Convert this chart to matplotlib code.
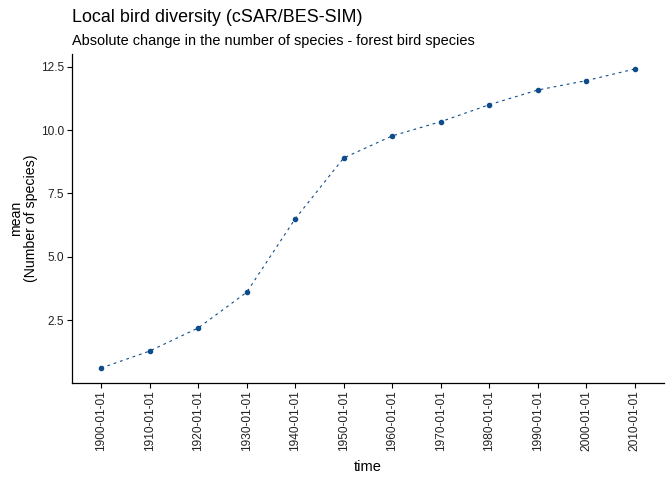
import matplotlib
matplotlib.use("Agg")
import matplotlib.pyplot as plt

plt.rcParams['font.family'] = ['Liberation Sans', 'DejaVu Sans']

years = ["1900-01-01", "1910-01-01", "1920-01-01", "1930-01-01",
         "1940-01-01", "1950-01-01", "1960-01-01", "1970-01-01",
         "1980-01-01", "1990-01-01", "2000-01-01", "2010-01-01"]
mean_species = [0.61, 1.28, 2.19, 3.60, 6.50, 8.90, 9.77, 10.33,
                11.00, 11.58, 11.95, 12.41]
y_ticks = [2.5, 5.0, 7.5, 10.0, 12.5]

color = "#0F4C8A"

fig = plt.figure(figsize=(6.72, 4.8), dpi=100)
ax = fig.add_axes([72 / 672, 97 / 480, 592 / 672, 329 / 480])

x = list(range(len(years)))
ax.plot(x, mean_species, linestyle=(0, (2.5, 3.5)), linewidth=0.8, color=color)
ax.plot(x, mean_species, linestyle="none", marker="o", markersize=3.0, color=color)

ax.set_xlim(-0.6, len(years) - 1 + 0.6)
lo, hi = min(mean_species), max(mean_species)
pad = (hi - lo) * 0.05
ax.set_ylim(lo - pad, hi + pad)

ax.set_xticks(x)
ax.set_xticklabels(years, rotation=90, fontsize=8.6)
ax.set_yticks(y_ticks)
ax.set_yticklabels([f"{v:.1f}" for v in y_ticks], fontsize=8.6)
ax.tick_params(length=3.5, width=0.8, color="black", labelcolor="#222222", pad=2)

for side in ["top", "right"]:
    ax.spines[side].set_visible(False)
for side in ["left", "bottom"]:
    ax.spines[side].set_linewidth(0.9)

ax.set_xlabel("time", fontsize=10.5, labelpad=6)
ax.set_ylabel("mean\n(Number of species)", fontsize=10.2, labelpad=2,
              multialignment="center", linespacing=1.1)

fig.text(72 / 672, 1 - 17 / 480, "Local bird diversity (cSAR/BES-SIM)",
         fontsize=12.9, va="center", ha="left")
fig.text(72 / 672, 1 - 41 / 480,
         "Absolute change in the number of species - forest bird species",
         fontsize=10.45, va="center", ha="left")

fig.savefig("out.png", dpi=100)
